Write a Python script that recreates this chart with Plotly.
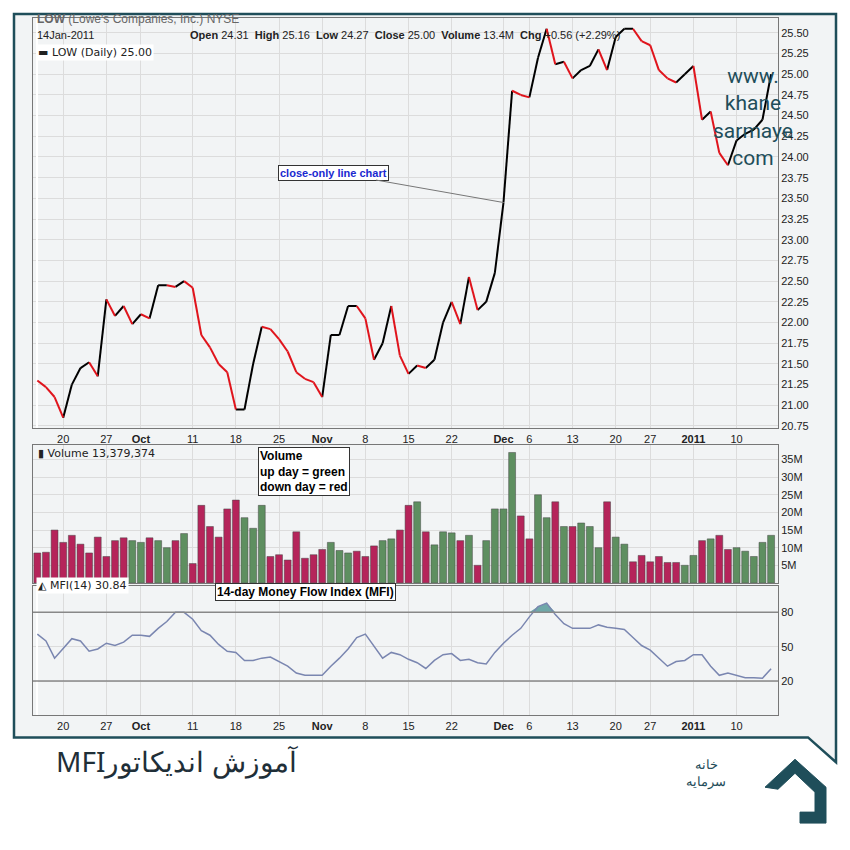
import pandas as pd
import plotly.graph_objs as go
from plotly.subplots import make_subplots

# trading days shown on the chart
dates = pd.bdate_range("2010-09-15", "2011-01-14")
dates = dates.drop([pd.Timestamp("2010-11-25"), pd.Timestamp("2010-12-24")])

close = [21.30, 21.22, 21.10, 20.85, 21.25, 21.45, 21.52, 21.35, 22.28, 22.08,
         22.20, 21.98, 22.10, 22.05, 22.45, 22.45, 22.43, 22.50, 22.42, 21.85,
         21.70, 21.50, 21.40, 20.95, 20.95, 21.50, 21.95, 21.92, 21.80, 21.65,
         21.40, 21.32, 21.28, 21.10, 21.85, 21.85, 22.20, 22.20, 22.05, 21.55,
         21.75, 22.20, 21.60, 21.38, 21.48, 21.45, 21.55, 22.00, 22.25, 21.98,
         22.55, 22.15, 22.25, 22.60, 23.45, 24.80, 24.75, 24.72, 25.20, 25.55,
         25.12, 25.15, 24.95, 25.05, 25.10, 25.30, 25.05, 25.45, 25.55, 25.55,
         25.40, 25.35, 25.05, 24.95, 24.90, 25.00, 25.10, 24.45, 24.55, 24.05,
         23.90, 24.20, 24.28, 24.33, 24.45, 25.00]

volume_m = [8.5, 8.7, 15, 11.5, 13.5, 11, 8.5, 13, 7.5, 12,
            12.8, 12, 11.5, 12.8, 12, 10, 12, 14, 5.5, 22,
            16, 13, 21, 23.5, 18.5, 15.5, 22, 7.5, 8, 6.5,
            14.5, 7, 8, 9.5, 11.5, 9.2, 8.5, 9, 7.5, 10.5,
            12, 12.5, 15, 22, 23, 14.5, 10.8, 14.5, 14.2, 12,
            13.5, 5, 12, 21, 21, 37, 19, 12.5, 25, 18.5,
            23, 16, 16, 17, 16, 10, 23, 13, 11, 6,
            7.8, 6, 7.5, 5.8, 5.8, 5, 7.8, 12, 12.5, 13.5,
            9.5, 10, 9, 7.5, 11.5, 13.5]
# u = up day (green), d = down day (red)
volume_dir = ("dddgggdgdg" "duuduududd" "dddduuuddd" "dddduuuddd" "uudduduuud"
              "uduuuudduu" "duduuuduud" "ddddduudud" "duuuuu")

mfi = [61, 55, 40, 49, 57, 55, 46, 48, 53, 51,
       54, 60, 60, 59, 66, 72, 80, 80, 74, 64,
       60, 52, 46, 45, 38, 38, 40, 41, 37, 33,
       27, 25, 25, 25, 33, 40, 48, 58, 61, 51,
       40, 45, 43, 39, 36, 31, 38, 43, 44, 38,
       39, 36, 35, 45, 53, 60, 66, 76, 85, 88,
       78, 70, 66, 66, 66, 69, 67, 66, 65, 58,
       51, 47, 40, 33, 37, 38, 43, 43, 33, 25,
       27, 25, 23, 23, 22.5, 30.84]

tick_dates = ["2010-09-20", "2010-09-27", "2010-10-01", "2010-10-11", "2010-10-18",
              "2010-10-25", "2010-11-01", "2010-11-08", "2010-11-15", "2010-11-22",
              "2010-12-01", "2010-12-06", "2010-12-13", "2010-12-20", "2010-12-27",
              "2011-01-03", "2011-01-10"]
tick_text = ["20", "27", "<b>Oct</b>", "11", "18", "25", "<b>Nov</b>", "8", "15", "22",
             "<b>Dec</b>", "6", "13", "20", "27", "<b>2011</b>", "10"]

x = list(range(len(dates)))
tickvals = [dates.get_loc(pd.Timestamp(d)) for d in tick_dates]

W = 850
def px(v): return v / W
def py(v): return 1 - v / W

fig = make_subplots(rows=3, cols=1, shared_xaxes=True, vertical_spacing=0.0)

# price line: black for up segments, red for down segments
bx, by, rx, ry = [], [], [], []
for i in range(1, len(close)):
    if close[i] >= close[i - 1]:
        bx += [x[i - 1], x[i], None]; by += [close[i - 1], close[i], None]
    else:
        rx += [x[i - 1], x[i], None]; ry += [close[i - 1], close[i], None]
fig.add_trace(go.Scatter(x=bx, y=by, mode="lines", line=dict(color="black", width=2),
                         hoverinfo="skip"), row=1, col=1)
fig.add_trace(go.Scatter(x=rx, y=ry, mode="lines", line=dict(color="#e0141c", width=2),
                         hoverinfo="skip"), row=1, col=1)

vcol = ["#5e8f60" if c == "u" else "#b5245a" for c in volume_dir]
fig.add_trace(go.Bar(x=x, y=[v * 1e6 for v in volume_m], marker_color=vcol,
                     marker_line=dict(color="#444", width=0.5), width=0.8), row=2, col=1)

fig.add_trace(go.Scatter(x=x, y=[80] * len(x), mode="lines", line=dict(color="rgba(0,0,0,0)")),
              row=3, col=1)
fig.add_trace(go.Scatter(x=x, y=[max(v, 80) for v in mfi], mode="lines", fill="tonexty",
                         fillcolor="#6fa8a8", line=dict(color="rgba(0,0,0,0)")), row=3, col=1)
fig.add_trace(go.Scatter(x=x, y=mfi, mode="lines", line=dict(color="#7a86b0", width=1.5)),
              row=3, col=1)

gfont = dict(family="Liberation Sans", size=11, color="#222")
xcommon = dict(tickvals=tickvals, ticktext=tick_text, range=[-0.5, len(x) - 0.2],
               showgrid=True, gridcolor="#dcdcdc", ticks="", tickfont=gfont,
               showline=True, linecolor="#777", mirror=True, domain=[px(33), px(778)])
fig.update_xaxes(**xcommon)
fig.update_xaxes(showticklabels=True, row=1, col=1)
fig.update_xaxes(showticklabels=False, row=2, col=1)
fig.update_xaxes(showticklabels=True, row=3, col=1)

ycommon = dict(side="right", showgrid=True, gridcolor="#dcdcdc", tickfont=gfont,
               showline=True, linecolor="#777", mirror=True, zeroline=False, ticks="")
fig.update_yaxes(**ycommon)
fig.update_yaxes(range=[20.72, 25.68], tick0=21, dtick=0.25, tickformat=".2f",
                 domain=[py(430), py(18)], row=1, col=1)
fig.update_yaxes(range=[0, 39e6], tickvals=[5e6, 10e6, 15e6, 20e6, 25e6, 30e6, 35e6],
                 ticktext=["5M", "10M", "15M", "20M", "25M", "30M", "35M"],
                 domain=[py(585), py(447)], row=2, col=1)
fig.update_yaxes(range=[-10, 103], tickvals=[20, 50, 80],
                 domain=[py(718), py(588)], row=3, col=1)

shapes = [
    dict(type="line", xref="x3", yref="y3", x0=-0.5, x1=len(x), y0=80, y1=80,
         line=dict(color="#888", width=1.5)),
    dict(type="line", xref="x3", yref="y3", x0=-0.5, x1=len(x), y0=20, y1=20,
         line=dict(color="#888", width=1.5)),
    # outer frame with tail
    dict(type="path", xref="paper", yref="paper", layer="below",
         path=f"M {px(14)} {py(14)} L {px(836)} {py(14)} L {px(836)} {py(765)} "
              f"L {px(808)} {py(740)} L {px(14)} {py(740)} Z",
         line=dict(color="#1f4e5a", width=2.5), fillcolor="#f2f4f5"),
    # logo
    dict(type="path", xref="paper", yref="paper",
         path=f"M {px(765)} {py(790)} L {px(795)} {py(762)} L {px(826)} {py(790)} "
              f"L {px(826)} {py(826)} L {px(800)} {py(826)} L {px(800)} {py(815)} "
              f"L {px(815)} {py(815)} L {px(815)} {py(795)} L {px(795)} {py(776)} L {px(778)} {py(792)} Z",
         line=dict(color="#1f4e5a", width=1), fillcolor="#1f4e5a"),
]

P = dict(xref="paper", yref="paper", showarrow=False)
ann = [
    dict(P, x=px(35), y=py(10), text="<b>LOW</b> (Lowe's Companies, Inc.) NYSE",
         xanchor="left", font=dict(family="Liberation Sans", size=12, color="#666")),
    dict(P, x=px(35), y=py(27), text="14Jan-2011", xanchor="left",
         font=dict(family="Liberation Sans", size=11, color="#222")),
    dict(P, x=px(188), y=py(27), xanchor="left",
         font=dict(family="Liberation Sans", size=11, color="#222"),
         text="<b>Open</b> 24.31  <b>High</b> 25.16  <b>Low</b> 24.27  <b>Close</b> 25.00  "
              "<b>Volume</b> 13.4M  <b>Chg</b> +0.56 (+2.29%)"),
    dict(P, x=px(36), y=py(44), xanchor="left", text="▬ LOW (Daily) 25.00",
         font=dict(family="DejaVu Sans", size=11, color="#222"), bgcolor="white"),
    dict(P, x=px(36), y=py(455), xanchor="left", text="▮ Volume 13,379,374",
         font=dict(family="DejaVu Sans", size=11, color="#222")),
    dict(P, x=px(36), y=py(596), xanchor="left", text="◭ MFI(14) 30.84",
         font=dict(family="DejaVu Sans", size=11, color="#222"), bgcolor="white"),
    dict(P, x=px(795), y=py(62), text="www.<br>khane<br>sarmaye<br>com",
         font=dict(family="Roboto", size=21, color="#1f4e5a"), align="center"),
    dict(x=54, y=23.45, xref="x", yref="y", ax=-170, ay=-30,
         text="<b>close-only line chart</b>", showarrow=True, arrowhead=0, arrowcolor="#777",
         font=dict(family="Liberation Sans", size=11, color="#1a2ad0"),
         bgcolor="white", bordercolor="#333", borderwidth=1),
    dict(P, x=px(258), y=py(473), xanchor="left", align="left",
         text="<b>Volume<br>up day = green<br>down day = red</b>",
         font=dict(family="Liberation Sans", size=12, color="black"),
         bgcolor="white", bordercolor="#333", borderwidth=1),
    dict(P, x=px(215), y=py(603), xanchor="left",
         text="<b>14-day Money Flow Index (MFI)</b>",
         font=dict(family="Liberation Sans", size=12, color="black"),
         bgcolor="white", bordercolor="#333", borderwidth=1),
    dict(P, x=px(300), y=py(785), xanchor="right", text="\u202bآموزش اندیکاتورMFI\u202c",
         font=dict(family="Noto Sans", size=28, color="#1f2f38")),
    dict(P, x=px(728), y=py(795), text="خانه<br>سرمایه",
         font=dict(family="Noto Sans", size=13, color="#1f4e5a")),
]

fig.update_layout(width=850, height=850, margin=dict(l=0, r=0, t=0, b=0),
                  paper_bgcolor="white", plot_bgcolor="white", showlegend=False,
                  bargap=0.2, shapes=shapes, annotations=ann)

fig.write_html("out.html", config={"displayModeBar": False},
               post_script="document.body.style.margin='0';")
